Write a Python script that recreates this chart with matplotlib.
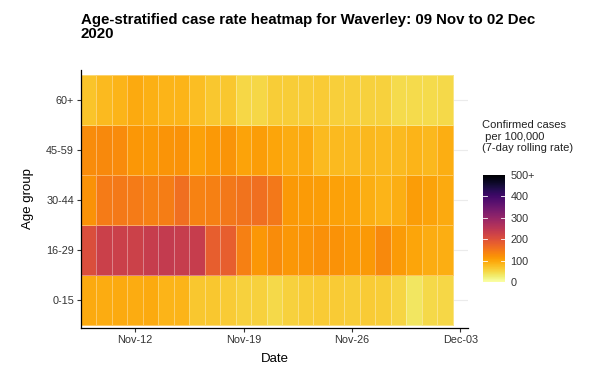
import numpy as np
import pandas as pd
import matplotlib
matplotlib.use('Agg')
import matplotlib.pyplot as plt
import matplotlib.dates as mdates

plt.rcParams['font.family'] = ['Liberation Sans', 'DejaVu Sans']

dates = pd.date_range('2020-11-09', '2020-12-02', freq='D')
age_groups = ['0-15', '16-29', '30-44', '45-59', '60+']

# 7-day rolling rate per 100,000, one list per age group
rate_0_15 = [95, 92, 95, 92, 95, 85, 85, 65, 65, 62, 55, 55,
             48, 55, 60, 62, 62, 60, 62, 60, 52, 35, 48, 50]
rate_16_29 = [205, 230, 230, 228, 235, 240, 235, 235, 180, 180, 140, 115,
              125, 115, 118, 122, 120, 112, 112, 130, 110, 100, 92, 90]
rate_30_44 = [120, 145, 148, 145, 140, 143, 160, 138, 140, 150, 155, 160,
              150, 112, 110, 108, 105, 102, 90, 85, 90, 108, 102, 95]
rate_45_59 = [125, 130, 128, 115, 112, 118, 120, 105, 112, 118, 103, 108,
              100, 92, 95, 80, 80, 80, 82, 80, 80, 85, 82, 90]
rate_60p = [70, 80, 85, 95, 88, 85, 85, 75, 65, 65, 50, 50,
            60, 60, 60, 62, 58, 58, 55, 55, 45, 45, 45, 48]

rates = np.array([rate_0_15, rate_16_29, rate_30_44, rate_45_59, rate_60p])

tick_dates = pd.to_datetime(['2020-11-12', '2020-11-19', '2020-11-26', '2020-12-03'])
cbar_ticks = [0, 100, 200, 300, 400, 500]
cbar_labels = ['0', '100', '200', '300', '400', '500+']

fig = plt.figure(figsize=(5.89, 3.72), dpi=100)
ax = fig.add_axes([0.1375, 0.1183, 0.6571, 0.6937])

xnum = mdates.date2num(dates)
x_edges = np.append(xnum - 0.5, xnum[-1] + 0.5)
y_edges = np.arange(len(age_groups) + 1) - 0.5

for i in range(len(age_groups)):
    ax.axhline(i, color='#ebebeb', lw=0.8, zorder=0)

mesh = ax.pcolormesh(x_edges, y_edges, rates, cmap='inferno_r', vmin=0, vmax=500,
                     edgecolors=(1, 1, 1, 0.35), linewidth=0.5, zorder=1)

ax.set_xlim(xnum[0] - 0.5, xnum[-1] + 1.5)
ax.set_ylim(-0.56, 4.6)
ax.set_yticks(range(len(age_groups)))
ax.set_yticklabels(age_groups)
ax.set_xticks(mdates.date2num(tick_dates))
ax.set_xticklabels([d.strftime('%b-%d') for d in tick_dates])

for s in ['top', 'right']:
    ax.spines[s].set_visible(False)
for s in ['left', 'bottom']:
    ax.spines[s].set_color('black')
    ax.spines[s].set_linewidth(0.9)
ax.tick_params(labelsize=7.8, colors='#333333', length=3, width=0.8, pad=2)
ax.set_xlabel('Date', fontsize=9.5, labelpad=6)
ax.set_ylabel('Age group', fontsize=9.5, labelpad=9)

fig.text(0.1375, 1 - 13 / 372, 'Age-stratified case rate heatmap for Waverley: 09 Nov to 02 Dec\n2020',
         fontsize=10.8, fontweight='bold', ha='left', va='top', linespacing=1.0)

cax = fig.add_axes([483 / 589, 1 - 282 / 372, 22 / 589, 107 / 372])
cb = fig.colorbar(mesh, cax=cax, ticks=cbar_ticks)
cb.outline.set_visible(False)
cb.ax.set_yticklabels(cbar_labels)
cb.ax.tick_params(labelsize=7.8, colors='#333333', length=0, pad=4)
for t in cbar_ticks[1:-1]:
    cax.plot([0, 0.2], [t, t], color='white', lw=0.6)
    cax.plot([0.8, 1.0], [t, t], color='white', lw=0.6)
cax.set_xlim(0, 1)
cax.set_ylim(0, 500)
fig.text(482 / 589, 1 - 120 / 372, 'Confirmed cases\n per 100,000\n(7-day rolling rate)',
         fontsize=8, ha='left', va='top', color='#222222')

fig.savefig('out.png', dpi=100)
